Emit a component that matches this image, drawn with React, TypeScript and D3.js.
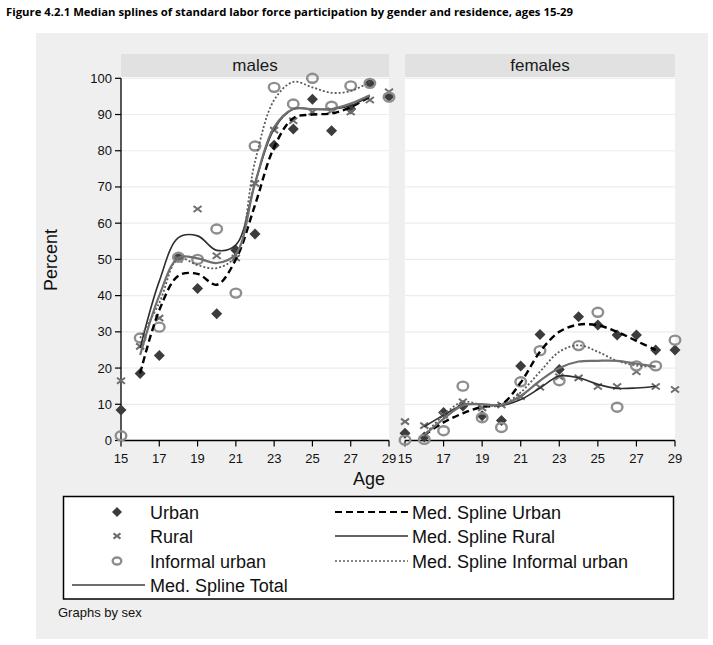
import React from "react";
import * as d3 from "d3";

const ages = [15, 16, 17, 18, 19, 20, 21, 22, 23, 24, 25, 26, 27, 28, 29];
const yTicks = [0, 10, 20, 30, 40, 50, 60, 70, 80, 90, 100];
const xTicks = [15, 17, 19, 21, 23, 25, 27, 29];

// males – scatter
const maleUrban = [8.4, 18.5, 23.5, 50.6, 42, 35, 52.5, 57, 81.5, 86, 94.2, 85.5, 91.5, 98.6, 95];
const maleRural = [16.5, 26, 33.8, 50, 63.9, 51, 50.4, 71, 85.7, 88.3, 90.7, 91, 90.7, 94, 96.3];
const maleInformal = [1.3, 28.3, 31.3, 50.6, 50, 58.4, 40.7, 81.3, 97.5, 92.9, 100, 92.3, 97.9, 98.6, 94.8];

// females – scatter
const femaleUrban = [2.0, 1.0, 7.7, 9.5, 6.8, 5.5, 20.6, 29.3, 19.6, 34.2, 31.9, 29.1, 29.1, 25.0, 25.0];
const femaleRural = [5.2, 4.1, 7.0, 10.7, 9.0, 9.8, 12.1, 14.7, 17.6, 17.3, 14.9, 14.9, 19.0, 14.9, 14.1];
const femaleInformal = [0.1, 0.3, 2.7, 15.0, 6.3, 3.6, 16.2, 24.8, 16.5, 26.2, 35.4, 9.2, 20.6, 20.6, 27.7];

// median spline knots (ages 16..28)
const splineAges = [16, 17, 18, 19, 20, 21, 22, 23, 24, 25, 26, 27, 28];
const maleSplUrban = [18.5, 36, 45.5, 46, 43, 50, 65, 81, 89, 90, 90.3, 92, 95];
const maleSplRural = [25.5, 44, 56, 56.5, 52.5, 54, 71, 86, 91.5, 91.5, 91.5, 92.5, 95];
const maleSplInformal = [28.3, 38, 50.3, 48.4, 47.6, 51, 77, 94, 99, 97.5, 96, 96.5, 99];
const maleSplTotal = [23.6, 40, 50.5, 50.3, 49, 51.5, 71, 86.5, 91.5, 91.5, 91.5, 93, 95.3];

const femaleSplUrban = [1.5, 5, 7.5, 9.3, 10, 16, 24.5, 30, 32, 31.8, 30, 27.5, 25];
const femaleSplRural = [3.8, 7, 9.8, 10, 9.7, 11.3, 14.5, 17.8, 17.3, 15.5, 14.4, 14.5, 15];
const femaleSplInformal = [1.5, 7, 10.7, 9.8, 9.8, 13.3, 19, 24.5, 26.3, 24.5, 22, 20.7, 20.4];
const femaleSplTotal = [1.5, 6, 9.7, 10, 9.8, 12.3, 16.5, 20, 21.8, 22, 22, 21.2, 20.4];

const FONT = "'Liberation Sans', Arial, sans-serif";

const W = 713;
const H = 645;
const yScale = d3.scaleLinear().domain([0, 100]).range([440.5, 78.3]);

type Panel = {
  label: string;
  x0: number;
  x1: number;
  urban: number[];
  rural: number[];
  informal: number[];
  sUrban: number[];
  sRural: number[];
  sInformal: number[];
  sTotal: number[];
};

const panels: Panel[] = [
  {
    label: "males", x0: 121, x1: 389,
    urban: maleUrban, rural: maleRural, informal: maleInformal,
    sUrban: maleSplUrban, sRural: maleSplRural, sInformal: maleSplInformal, sTotal: maleSplTotal,
  },
  {
    label: "females", x0: 405, x1: 675,
    urban: femaleUrban, rural: femaleRural, informal: femaleInformal,
    sUrban: femaleSplUrban, sRural: femaleSplRural, sInformal: femaleSplInformal, sTotal: femaleSplTotal,
  },
];

const COL_URBAN = "#3c3c3c";
const COL_RURAL = "#6e6e6e";
const COL_INF = "#8e8e8e";

function Diamond({ x, y, r = 5.5 }: { x: number; y: number; r?: number }) {
  return <path d={`M${x},${y - r}L${x + r},${y}L${x},${y + r}L${x - r},${y}Z`} fill={COL_URBAN} />;
}
function Cross({ x, y, r = 4 }: { x: number; y: number; r?: number }) {
  return (
    <path d={`M${x - r},${y - r * 0.75}L${x + r},${y + r * 0.75}M${x - r},${y + r * 0.75}L${x + r},${y - r * 0.75}`}
      stroke={COL_RURAL} strokeWidth={2} fill="none" />
  );
}
function Ring({ x, y, r = 4.5 }: { x: number; y: number; r?: number }) {
  return <ellipse cx={x} cy={y} rx={r + 0.8} ry={r} fill="none" stroke={COL_INF} strokeWidth={2.4} />;
}

function PanelView({ p, first }: { p: Panel; first: boolean }) {
  const x = d3.scaleLinear().domain([15, 29]).range([p.x0, p.x1]);
  const line = d3
    .line<number>()
    .x((_, i) => x(splineAges[i]))
    .y((v) => yScale(v))
    .curve(d3.curveCatmullRom.alpha(0.5));
  const yBottom = yScale(0);
  const yTop = yScale(100);
  return (
    <g>
      {/* strip */}
      <rect x={p.x0} y={54} width={p.x1 - p.x0} height={23} fill="#e1e1e1" />
      <text x={(p.x0 + p.x1) / 2} y={70.5} textAnchor="middle" fontFamily={FONT} fontSize={17} fill="#1a1a1a">
        {p.label}
      </text>
      {/* plot region */}
      <rect x={p.x0} y={77} width={p.x1 - p.x0} height={yBottom - 77} fill="#ffffff" />
      {yTicks.map((t) => (
        <line key={t} x1={p.x0} x2={p.x1} y1={yScale(t)} y2={yScale(t)} stroke="#ececec" strokeWidth={1.2} />
      ))}
      {/* y axis */}
      {first && (
        <g>
          <line x1={p.x0} x2={p.x0} y1={yTop} y2={yBottom} stroke="#000" strokeWidth={1.3} />
          {yTicks.map((t) => (
            <g key={t}>
              <line x1={p.x0 - 6} x2={p.x0} y1={yScale(t)} y2={yScale(t)} stroke="#000" strokeWidth={1.2} />
              <text x={p.x0 - 9} y={yScale(t) + 4.5} textAnchor="end" fontFamily={FONT} fontSize={13} fill="#111">
                {t}
              </text>
            </g>
          ))}
        </g>
      )}
      {/* x axis */}
      <line x1={p.x0} x2={p.x1} y1={yBottom} y2={yBottom} stroke="#000" strokeWidth={1.3} />
      {xTicks.map((t) => (
        <g key={t}>
          <line x1={x(t)} x2={x(t)} y1={yBottom} y2={yBottom + 6} stroke="#000" strokeWidth={1.2} />
          <text x={x(t)} y={yBottom + 22} textAnchor="middle" fontFamily={FONT} fontSize={13} fill="#111">
            {t}
          </text>
        </g>
      ))}
      {/* scatter */}
      {p.urban.map((v, i) => <Diamond key={"u" + i} x={x(ages[i])} y={yScale(v)} />)}
      {p.rural.map((v, i) => <Cross key={"r" + i} x={x(ages[i])} y={yScale(v)} />)}
      {p.informal.map((v, i) => <Ring key={"i" + i} x={x(ages[i])} y={yScale(v)} />)}
      {/* splines */}
      <path d={line(p.sUrban) || ""} fill="none" stroke="#000" strokeWidth={2.4} strokeDasharray="7,4" />
      <path d={line(p.sRural) || ""} fill="none" stroke="#2e2e2e" strokeWidth={1.6} />
      <path d={line(p.sInformal) || ""} fill="none" stroke="#5c5c5c" strokeWidth={1.8} strokeDasharray="2,2" />
      <path d={line(p.sTotal) || ""} fill="none" stroke="#6f6f6f" strokeWidth={2.2} />
    </g>
  );
}

export default function App() {
  const legendRows = [512, 536, 561, 585];
  return (
    <svg width={W} height={H} style={{ position: "absolute", left: 0, top: 0, background: "#fff" }}>
      <rect x={0} y={0} width={W} height={H} fill="#ffffff" />
      <text x={6} y={16} fontFamily="'Open Sans', 'DejaVu Sans', sans-serif" fontWeight="bold" fontSize={11}
        textLength={567} lengthAdjust="spacingAndGlyphs" fill="#000">
        Figure 4.2.1 Median splines of standard labor force participation by gender and residence, ages 15-29
      </text>
      <rect x={36} y={33} width={672} height={606} fill="#efefef" />
      {panels.map((p, i) => <PanelView key={p.label} p={p} first={i === 0} />)}
      {/* axis titles */}
      <text transform="translate(57,260) rotate(-90)" textAnchor="middle" fontFamily={FONT} fontSize={18} fill="#111">
        Percent
      </text>
      <text x={369} y={485} textAnchor="middle" fontFamily={FONT} fontSize={18} fill="#111">
        Age
      </text>
      {/* legend */}
      <rect x={63.5} y={496.5} width={610} height={102.5} fill="#fff" stroke="#000" strokeWidth={1.5} />
      <Diamond x={117} y={legendRows[0]} r={5} />
      <Cross x={117} y={legendRows[1]} r={3.5} />
      <Ring x={117} y={legendRows[2]} r={3.5} />
      <line x1={72} x2={145} y1={legendRows[3]} y2={legendRows[3]} stroke="#6f6f6f" strokeWidth={2.2} />
      {["Urban", "Rural", "Informal urban", "Med. Spline Total"].map((t, i) => (
        <text key={t} x={150} y={legendRows[i] + 6.5} fontFamily={FONT} fontSize={18} fill="#111">{t}</text>
      ))}
      <line x1={335} x2={408} y1={legendRows[0]} y2={legendRows[0]} stroke="#000" strokeWidth={2.2} strokeDasharray="7,4" />
      <line x1={335} x2={408} y1={legendRows[1]} y2={legendRows[1]} stroke="#2e2e2e" strokeWidth={1.6} />
      <line x1={335} x2={408} y1={legendRows[2]} y2={legendRows[2]} stroke="#5c5c5c" strokeWidth={1.4} strokeDasharray="2,2" />
      {["Med. Spline Urban", "Med. Spline Rural", "Med. Spline Informal urban"].map((t, i) => (
        <text key={t} x={412} y={legendRows[i] + 6.5} fontFamily={FONT} fontSize={18} fill="#111">{t}</text>
      ))}
      <text x={58} y={617} fontFamily={FONT} fontSize={13} fill="#111">Graphs by sex</text>
    </svg>
  );
}
